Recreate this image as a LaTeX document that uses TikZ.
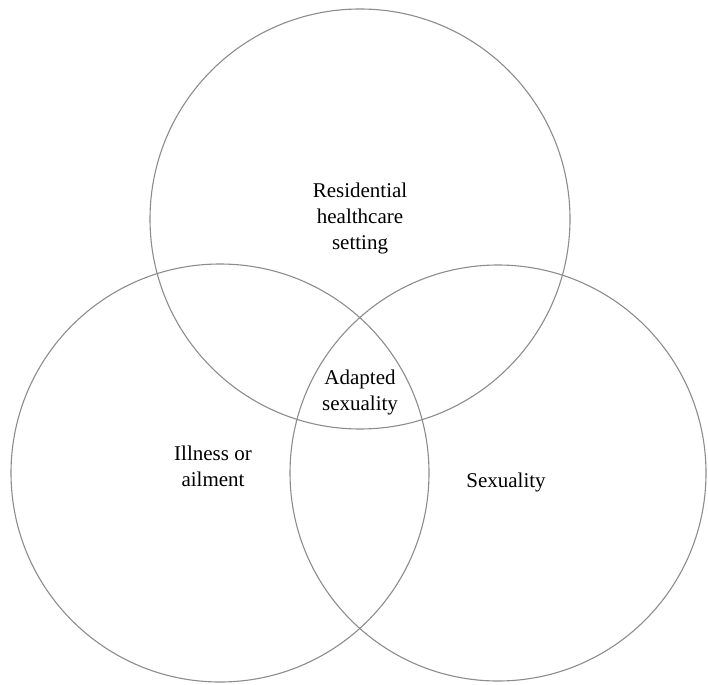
\documentclass[tikz,border=0pt]{standalone}
\usepackage{fontspec}
\setmainfont{Liberation Serif}
\usetikzlibrary{positioning}
\tikzset{
	venn diagram/.style={
		x=1pt,y=-1pt,
		font=\fontsize{21}{26}\selectfont
	},
	set circle/.style={
		draw=black!45,
		line width=1.1pt
	},
	set label/.style={
		align=center,
		inner sep=0pt
	}
}

\begin{document}
\begin{tikzpicture}[venn diagram]
		\useasboundingbox (0,0) rectangle (708,684);
		% the three sets
		\draw[set circle] (360,219) circle[radius=210];
		\draw[set circle] (220,473) circle[radius=209];
		\draw[set circle] (498,473) circle[radius=208];
		% labels
		\node[set label] (setting) at (360,218) {Residential\\healthcare\\setting};
		\node[set label] (illness) at (213,466) {Illness or\\ailment};
		\node[set label] (sexuality) at (506,482) {Sexuality};
		\node[set label] (adapted) at (360,392) {Adapted\\sexuality};
	\end{tikzpicture}
\end{document}
